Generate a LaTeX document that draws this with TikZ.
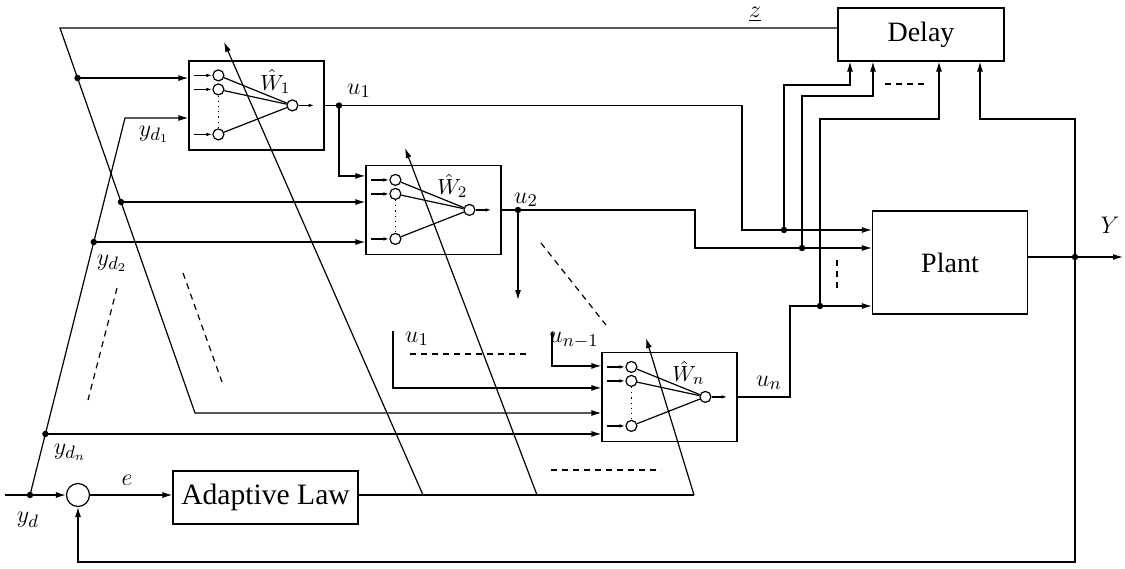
\documentclass[tikz,border=0pt]{standalone}
\usepackage{fontspec}
\setmainfont{Liberation Serif}
\usetikzlibrary{arrows.meta,calc}

\begin{document}
\begin{tikzpicture}[
        x=0.5pt, y=-0.5pt,
        line width=0.6pt,
        >={Latex[length=5pt,width=3pt]},
        block/.style={draw, inner sep=0pt, font=\fontsize{14}{16}\selectfont},
        netbox/.style={draw, minimum width=67.5pt, minimum height=44.5pt, inner sep=0pt},
        neuron/.style={draw, circle, minimum size=5.5pt, inner sep=0pt},
        sumnode/.style={draw, circle, minimum size=11.5pt, inner sep=0pt},
        junction/.style={circle, fill, minimum size=3.2pt, inner sep=0pt},
        siglabel/.style={font=\fontsize{12.5}{14}\selectfont, inner sep=0pt},
        netlabel/.style={font=\fontsize{11}{13}\selectfont, inner sep=0pt},
        netarrow/.style={-{Latex[length=3pt,width=1.8pt]}},
        gapline/.style={dashed, dash pattern=on 3pt off 2.5pt}
    ]
    \useasboundingbox (0,0) rectangle (1125,568);

    % blocks
    \node[block, minimum width=83pt, minimum height=26.5pt] (delay) at (921,34.5) {Delay};
    \node[block, minimum width=77.5pt, minimum height=51.5pt] (plant) at (950,262.5) {Plant};
    \node[block, minimum width=92.5pt, minimum height=26.5pt, font=\fontsize{14.8}{17}\selectfont] (adapt) at (265.5,497.5) {Adaptive Law};
    \node[sumnode] (sum) at (78,495) {};
    \node[netbox] (W1) at (256.5,105.5) {};
    \node[netbox] (W2) at (433.5,210) {};
    \node[netbox] (Wn) at (669.5,397) {};

    % neural nets inside the boxes
    \foreach \net/\sub in {W1/1,W2/2,Wn/n} {
        \begin{scope}[shift={(\net.north west)}]
            \node[neuron] (\net-a) at (30,15) {};
            \node[neuron] (\net-b) at (30,29) {};
            \node[neuron] (\net-c) at (30,74) {};
            \node[neuron] (\net-o) at (104,45) {};
            \node[netlabel] (\net-lab) at (87,21) {$\hat{W}_{\sub}$};
            \foreach \i in {a,b,c} {
                \draw[netarrow] ([xshift=-9pt]\net-\i.west) -- (\net-\i.west);
                \draw (\net-\i) -- (\net-o);
            }
            \draw[dotted] (\net-b.south) -- (\net-c.north);
            \draw[netarrow] (\net-o.east) -- ([xshift=8pt]\net-o.east);
        \end{scope}
    }

    % points
    \coordinate (ztop) at (60,28);
    \coordinate (zend) at (195,413);
    \coordinate (z1) at ($(ztop)!0.13!(zend)$);
    \coordinate (z2) at ($(ztop)!0.452!(zend)$);
    \coordinate (ydin) at (5,495);
    \coordinate (yd0) at (30,495);
    \coordinate (ydtop) at (125,118);
    \coordinate (yd2) at ($(yd0)!0.671!(ydtop)$);
    \coordinate (ydn) at ($(yd0)!0.162!(ydtop)$);
    \coordinate (u1) at (339,105.5);
    \coordinate (u2) at (518,210);
    \coordinate (u2end) at (518,300);
    \coordinate (u1n) at (393,331);
    \coordinate (unm) at (552,332);
    \coordinate (p1) at (784,230);
    \coordinate (p2) at (802,248);
    \coordinate (p3) at (820,306);
    \coordinate (q1) at (850,85);
    \coordinate (q2) at (873,96);
    \coordinate (q3) at (939,119);
    \coordinate (q4) at (980,119);
    \coordinate (ynode) at (1075,257);
    \coordinate (yend) at (1123,257);
    \coordinate (fb) at (1075,562);
    \coordinate (a1) at (423,495);
    \coordinate (t1) at (224,42);
    \coordinate (a2) at (537,495);
    \coordinate (t2) at (405,148);
    \coordinate (a3) at (694,495);
    \coordinate (t3) at (646,338);

    % reference and delayed signals
    \draw[->] (delay.west |- ztop) -- (ztop) -- (zend) -- (zend -| Wn.west);
    \draw[->] (ydin) -- (sum.west);
    \draw[->] (yd0) -- (ydtop) -- (ydtop -| W1.west);
    \draw[->] (z1) -- (z1 -| W1.west);
    \draw[->] (z2) -- (z2 -| W2.west);
    \draw[->] (yd2) -- (yd2 -| W2.west);
    \draw[->] (ydn) -- (ydn -| Wn.west);

    % controller outputs
    \draw[->] (W1.east) -| (742,230) -- (p1 -| plant.west);
    \draw[->] (W2.east) -| (695,248) -- (p2 -| plant.west);
    \draw[->] (Wn.east) -| (790,306) -- (p3 -| plant.west);
    \draw[->] (u1) |- ([yshift=-5.5pt]W2.north west);
    \draw[->] (u2) -- (u2end);
    \draw[->] (unm) |- ([yshift=-7pt]Wn.north west);
    \draw[->] (u1n) |- ([yshift=-18pt]Wn.north west);

    % into the delay
    \draw[->] (p1) |- (q1) -- (q1 |- delay.south);
    \draw[->] (p2) |- (q2) -- (q2 |- delay.south);
    \draw[->] (p3) |- (q3) -- (q3 |- delay.south);
    \draw[->] (ynode) |- (q4) -- (q4 |- delay.south);

    % plant output and error loop
    \draw[->] (plant.east |- ynode) -- (yend);
    \draw[->] (ynode) -- (fb) -| (sum.south);
    \draw[->] (sum.east) -- (sum.east -| adapt.west);
    \draw (adapt.east |- sum) -- (a3);
    \draw[->] (a1) -- (t1);
    \draw[->] (a2) -- (t2);
    \draw[->] (a3) -- (t3);

    \foreach \p in {z1,z2,yd0,yd2,ydn,u1,u2,p1,p2,p3,ynode}
        \node[junction] (dot-\p) at (\p) {};

    % dashes for the omitted channels
    \draw[gapline] (117,288) -- (88,400);
    \draw[gapline] (183,273) -- (222,382);
    \draw[gapline] (541,243) -- (606,325);
    \draw[gapline] (410,354) -- (529,354);
    \draw[gapline] (551,470) -- (661,470);
    \draw[gapline] (885,84) -- (927,84);
    \draw[gapline] (837,260) -- (837,292);

    % labels
    \node[siglabel] (lz) at (755,14) {$\underline{z}$};
    \node[siglabel] (lu1) at (359,91) {$u_1$};
    \node[siglabel] (lu2) at (526,200) {$u_2$};
    \node[siglabel] (lun) at (769,383) {$u_n$};
    \node[siglabel] (lu1b) at (417,339) {$u_1$};
    \node[siglabel] (lunm) at (574,340) {$u_{n-1}$};
    \node[siglabel] (lyd1) at (154,134) {$y_{d_1}$};
    \node[siglabel] (lyd2) at (112,263) {$y_{d_2}$};
    \node[siglabel] (lydn) at (70,452) {$y_{d_n}$};
    \node[siglabel] (lyd) at (28,520) {$y_d$};
    \node[siglabel] (le) at (127,480) {$e$};
    \node[siglabel] (lY) at (1110,225) {$Y$};
\end{tikzpicture}
\end{document}
